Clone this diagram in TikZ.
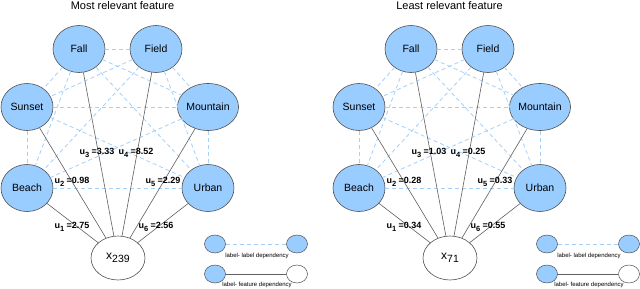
\documentclass[tikz,border=0pt]{standalone}
\usepackage{fontspec}
\setmainfont{Liberation Sans}
\usetikzlibrary{shapes.geometric}
\definecolor{lblue}{RGB}{153,204,255}
\definecolor{dblue}{RGB}{165,208,250}
\definecolor{bord}{RGB}{80,80,80}
\definecolor{sline}{RGB}{95,95,95}
\newcommand\sbs[1]{\raisebox{-0.55ex}{\fontsize{7.5}{8}\selectfont#1}}
\newcommand\xsbs[1]{\raisebox{-0.5ex}{\fontsize{10.5}{11}\selectfont#1}}
\tikzset{
  lab/.style={ellipse, draw=bord, line width=0.6pt, fill=lblue, minimum width=52pt, minimum height=47pt, inner sep=0pt, font=\fontsize{10.5}{12}\selectfont},
  feat/.style={ellipse, draw=bord, line width=0.6pt, fill=white, minimum width=54pt, minimum height=44pt, inner sep=0pt, font=\fontsize{12}{13}\selectfont},
  smlab/.style={ellipse, draw=bord, line width=0.5pt, fill=lblue, minimum width=21pt, minimum height=18pt, inner sep=0pt},
  smfeat/.style={ellipse, draw=bord, line width=0.5pt, fill=white, minimum width=21pt, minimum height=18pt, inner sep=0pt},
  dep/.style={draw=dblue, line width=0.8pt, dash pattern=on 4pt off 3pt},
  fdep/.style={draw=sline, line width=0.6pt},
  wt/.style={inner sep=0pt, font=\bfseries\fontsize{9}{10}\selectfont},
  ttl/.style={inner sep=0pt, font=\fontsize{11}{12}\selectfont},
  leg/.style={inner sep=0pt, font=\fontsize{6}{7}\selectfont}
}
\newcommand\drawpanel[3]{%
  \begin{scope}[xshift=#2pt]
    \node[lab] (#1fa) at (79,49) {Fall};
    \node[lab] (#1fi) at (156,49) {Field};
    \node[lab] (#1su) at (27,107) {Sunset};
    \node[lab] (#1mo) at (208,107) {Mountain};
    \node[lab] (#1be) at (27,188) {Beach};
    \node[lab] (#1ur) at (208,188) {Urban};
    \node[feat] (#1x) at (118,258) {x\xsbs{#3}};
    \foreach \a/\b in {fa/fi,fa/su,fa/mo,fa/be,fa/ur,fi/su,fi/mo,fi/be,fi/ur,su/mo,su/be,su/ur,mo/be,mo/ur,be/ur}
      \draw[dep] (#1\a) -- (#1\b);
    \foreach \a in {be,su,fa,fi,mo,ur}
      \draw[fdep] (#1\a) -- (#1x);
    \node[smlab] (#1la) at (215,244) {};
    \node[smlab] (#1lb) at (297,244) {};
    \draw[dep] (#1la) -- (#1lb);
    \node[leg] (#1lt) at (257,256) {label- label dependency};
    \node[smlab] (#1fa2) at (215,274) {};
    \node[smfeat] (#1fb2) at (297,274) {};
    \draw[fdep] (#1fa2) -- (#1fb2);
    \node[leg] (#1ft) at (257,285) {label- feature dependency};
  \end{scope}}
\newcommand\weights[7]{%
  \begin{scope}[xshift=#1pt]
    \node[wt] at (72,227) {u\sbs{1} =#2};
    \node[wt] at (72,182) {u\sbs{2} =#3};
    \node[wt] at (97,153) {u\sbs{3} =#4};
    \node[wt] at (136,153) {u\sbs{4} =#5};
    \node[wt] at (163,182) {u\sbs{5} =#6};
    \node[wt] at (156,227) {u\sbs{6} =#7};
  \end{scope}}
\begin{document}
\begin{tikzpicture}[x=1pt,y=-1pt]
  \useasboundingbox[fill=white] (0,0) rectangle (640,289);
  \node[ttl] (t1) at (122.5,6) {Most relevant feature};
  \node[ttl] (t2) at (449.5,6) {Least relevant feature};
  \drawpanel{L}{0}{239}
  \drawpanel{R}{332}{71}
  \weights{0}{2.75}{0.98}{3.33}{8.52}{2.29}{2.56}
  \weights{332}{0.34}{0.28}{1.03}{0.25}{0.33}{0.55}
\end{tikzpicture}
\end{document}
